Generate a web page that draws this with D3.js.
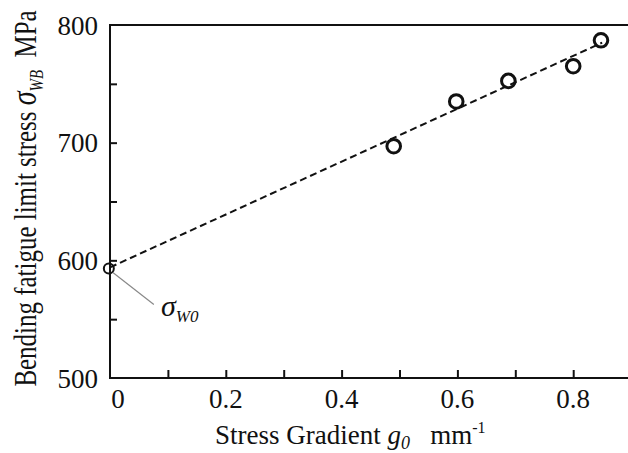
<!DOCTYPE html>
<html>
<head>
<meta charset="utf-8">
<script src="https://cdn.jsdelivr.net/npm/d3@7"></script>
<style>
  html, body { margin: 0; padding: 0; background: #fff; }
  svg { display: block; }
  text { font-family: "Liberation Serif", "Times New Roman", serif; fill: #111; }
</style>
</head>
<body>
<svg id="chart" width="628" height="453"></svg>
<script>
// ---- data ----
const gradient = [0.49, 0.598, 0.688, 0.80, 0.848];          // g0, mm^-1
const fatigueStress = [697, 735, 752.5, 765, 787];           // sigma_WB, MPa
const sigmaW0Point = [{ x: -0.002, y: 593 }];                // extrapolated sigma_W0
const fitX = [0, 0.85];
const fitY = [594, 785];
const xTickValues = [0, 0.2, 0.4, 0.6, 0.8];
const xMinorTicks = [0.1, 0.3, 0.5, 0.7, 0.9];
const yTickValues = [500, 600, 700, 800];
const yMinorTicks = [550, 650, 750];

(function () {
const svg = d3.select("#chart");
const W = 628, H = 453;
const mLeft = 110, mTop = 25, mBottom = 378;

const x = d3.scaleLinear().domain([0, 0.9]).range([mLeft, mLeft + 0.9 * 579]);
const y = d3.scaleLinear().domain([500, 800]).range([mBottom, mTop]);

// frame top line
svg.append("line").attr("x1", mLeft).attr("x2", W).attr("y1", mTop).attr("y2", mTop)
  .attr("stroke", "#111").attr("stroke-width", 2);

// left axis
const yAxis = d3.axisLeft(y).tickValues(yTickValues.concat(yMinorTicks).filter(v => v !== 500 && v !== 800))
  .tickSize(-7).tickFormat("");
const gy = svg.append("g").attr("transform", `translate(${mLeft},0)`).call(yAxis);
gy.select(".domain").remove();
gy.selectAll(".tick line").attr("stroke", "#111").attr("stroke-width", 2);
svg.append("line").attr("x1", mLeft).attr("x2", mLeft).attr("y1", mTop - 1).attr("y2", mBottom + 1)
  .attr("stroke", "#111").attr("stroke-width", 2);

// y tick labels
svg.append("g").selectAll("text").data(yTickValues).join("text")
  .attr("x", mLeft - 12).attr("y", d => y(d) + 9.5)
  .attr("text-anchor", "end").attr("font-size", 27).text(d => d);

// bottom axis
const xAxis = d3.axisBottom(x).tickValues(xTickValues.concat(xMinorTicks).filter(v => v !== 0))
  .tickSize(-8).tickFormat("");
const gx = svg.append("g").attr("transform", `translate(0,${mBottom})`).call(xAxis);
gx.select(".domain").remove();
gx.selectAll(".tick line").attr("stroke", "#111").attr("stroke-width", 2);
svg.append("line").attr("x1", mLeft - 1).attr("x2", W).attr("y1", mBottom).attr("y2", mBottom)
  .attr("stroke", "#111").attr("stroke-width", 2);

// x tick labels
svg.append("g").selectAll("text").data(xTickValues).join("text")
  .attr("x", d => x(d) + (d === 0 ? 8 : 0)).attr("y", mBottom + 30)
  .attr("text-anchor", "middle").attr("font-size", 27)
  .text(d => d === 0 ? "0" : d3.format(".1f")(d));

// fitted dashed line
const fit = fitX.map((v, i) => ({ x: v, y: fitY[i] }));
svg.append("path").datum(fit)
  .attr("d", d3.line().x(d => x(d.x)).y(d => y(d.y)))
  .attr("fill", "none").attr("stroke", "#111").attr("stroke-width", 2)
  .attr("stroke-dasharray", "7,4");

// data circles
const pts = gradient.map((g, i) => ({ x: g, y: fatigueStress[i] }));
svg.append("g").selectAll("circle").data(pts).join("circle")
  .attr("cx", d => x(d.x)).attr("cy", d => y(d.y)).attr("r", 6.8)
  .attr("fill", "none").attr("stroke", "#111").attr("stroke-width", 3);

svg.append("g").selectAll("circle").data(sigmaW0Point).join("circle")
  .attr("cx", d => x(d.x)).attr("cy", d => y(d.y)).attr("r", 5)
  .attr("fill", "none").attr("stroke", "#111").attr("stroke-width", 2);

// annotation leader
const p0 = sigmaW0Point[0];
svg.append("line")
  .attr("x1", x(p0.x) + 4).attr("y1", y(p0.y) + 4)
  .attr("x2", x(p0.x) + 45).attr("y2", y(p0.y) + 36)
  .attr("stroke", "#888").attr("stroke-width", 1.2);
const ann = svg.append("text").attr("x", 161).attr("y", 316).attr("font-size", 30);
ann.append("tspan").attr("font-style", "italic").text("σ");
ann.append("tspan").attr("font-size", 17).attr("font-style", "italic").attr("dy", 6).text("W0");

// x label
const xl = svg.append("text").attr("x", 215).attr("y", 444).attr("font-size", 27);
xl.append("tspan").text("Stress Gradient ");
xl.append("tspan").attr("font-style", "italic").text("g");
xl.append("tspan").attr("font-style", "italic").attr("font-size", 18).attr("dy", 5).text("0");
xl.append("tspan").attr("dy", -5).text("\u00a0\u00a0 mm");
xl.append("tspan").attr("font-size", 16).attr("dy", -11).text("-1");

// y label (tall, condensed lettering)
const yl = svg.append("text")
  .attr("transform", `translate(36,${(5 + 392) / 2}) rotate(-90) scale(0.78,1)`)
  .attr("text-anchor", "middle").attr("font-size", 32);
yl.append("tspan").text("Bending fatigue limit stress ");
yl.append("tspan").attr("font-style", "italic").attr("font-size", 36).text("σ");
yl.append("tspan").attr("font-style", "italic").attr("font-size", 19).attr("dy", 7).text("WB");
yl.append("tspan").attr("dy", -7).text("\u00a0 MPa");
})();
</script>
</body>
</html>
